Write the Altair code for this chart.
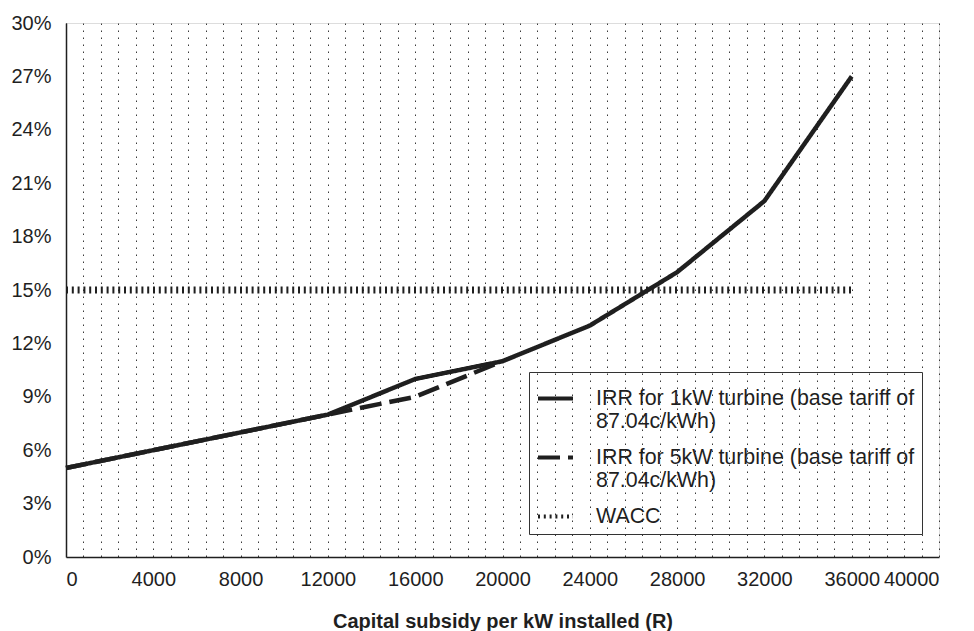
import altair as alt
import pandas as pd

subsidy = [0, 4000, 8000, 12000, 16000, 20000, 24000, 28000, 32000, 36000]
irr_1kw = [5, 6, 7, 8, 10, 11, 13, 16, 20, 27]
subsidy_5kw = [0, 4000, 8000, 12000, 16000, 20000]
irr_5kw = [5, 6, 7, 8, 9, 11]
wacc_x = [0, 36000]
wacc_y = [15, 15]

S1 = "IRR for 1kW turbine (base tariff of 87.04c/kWh)"
S5 = "IRR for 5kW turbine (base tariff of 87.04c/kWh)"
SW = "WACC"
series_order = [S1, S5, SW]

rows = []
for x, y in zip(subsidy, irr_1kw):
    rows.append({"x": x, "y": y, "series": S1})
for x, y in zip(subsidy_5kw, irr_5kw):
    rows.append({"x": x, "y": y, "series": S5})
for x, y in zip(wacc_x, wacc_y):
    rows.append({"x": x, "y": y, "series": SW})
df = pd.DataFrame(rows)

FONT = "Liberation Sans"
INK = "#1f1f1f"

x_enc = alt.X("x:Q", scale=alt.Scale(domain=[0, 40000], nice=False),
              title="Capital subsidy per kW installed (R)",
              axis=alt.Axis(values=list(range(0, 40001, 800)),
                            labelExpr="datum.value % 4000 == 0 ? datum.value : ''",
                            labelOverlap=False, ticks=False, grid=True,
                            gridDash=[1.5, 5.5], gridColor="#3a3a3a", gridWidth=1,
                            domainColor=INK, domainWidth=1.5,
                            labelFont=FONT, labelFontSize=20, labelColor=INK,
                            labelPadding=12,
                            titleFont=FONT, titleFontSize=20, titleFontWeight="bold",
                            titleColor=INK, titlePadding=22))
y_enc = alt.Y("y:Q", scale=alt.Scale(domain=[0, 30], nice=False), title=None,
              axis=alt.Axis(values=list(range(0, 31, 3)),
                            labelExpr="datum.value + '%'",
                            ticks=False, grid=False, domainColor=INK, domainWidth=1.5,
                            labelFont=FONT, labelFontSize=20, labelColor=INK,
                            labelPadding=15))

dash_enc = alt.StrokeDash("series:N",
                          scale=alt.Scale(domain=series_order,
                                          range=[[1, 0], [22, 8], [2, 3.8]]),
                          legend=alt.Legend(title=None, orient="none",
                                            legendX=463, legendY=349,
                                            strokeColor="#333", padding=7,
                                            symbolType="stroke", symbolSize=1225,
                                            symbolStrokeWidth=4, symbolStrokeColor=INK,
                                            labelFont=FONT, labelFontSize=21.4,
                                            labelColor=INK, labelLimit=400,
                                            labelOffset=21, rowPadding=5,
                                            labelExpr="split(replace(datum.label, ' 87', '|87'), '|')"))

base = alt.Chart(df)
wacc = base.transform_filter(alt.datum.series == SW).mark_line(color=INK).encode(
    x=x_enc, y=y_enc, strokeDash=dash_enc, strokeWidth=alt.value(7))
l5 = base.transform_filter(alt.datum.series == S5).mark_line(color=INK).encode(
    x=x_enc, y=y_enc, strokeDash=dash_enc, strokeWidth=alt.value(4.5))
l1 = base.transform_filter(alt.datum.series == S1).mark_line(color=INK).encode(
    x=x_enc, y=y_enc, strokeDash=dash_enc, strokeWidth=alt.value(4.5))

chart = alt.layer(wacc, l5, l1).properties(
    width=873, height=534,
    padding={"left": 2, "top": 5, "right": 5, "bottom": 5},
).configure_view(stroke=None).configure(background="white")

chart.save("out.html", embed_options={"renderer": "svg", "actions": False})
